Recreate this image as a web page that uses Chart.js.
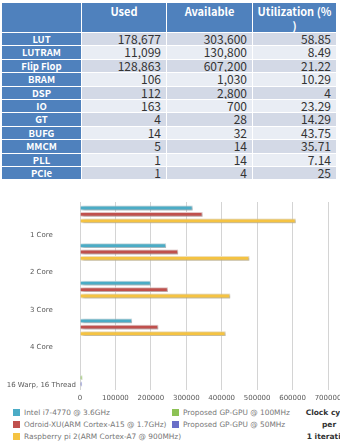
<!DOCTYPE html>
<html>
<head>
<meta charset="utf-8">
<script src="https://cdn.jsdelivr.net/npm/chart.js@4.4.0/dist/chart.umd.min.js"></script>
<style>
html,body{margin:0;padding:0;background:#fff;width:340px;height:442px;overflow:hidden;position:relative}
#tbl{position:absolute;left:1px;top:2px;border-collapse:separate;border-spacing:1px;table-layout:fixed;width:336px;font-family:"Noto Sans CJK KR","Noto Sans",sans-serif}
#tbl th{background:#4f81bd;color:#fff;font-weight:bold;font-size:11px;height:28px;line-height:14px;vertical-align:top;padding:1px 0 0 0;text-align:center}
#tbl td{height:12.4px;line-height:12.4px;padding:0;overflow:hidden;white-space:nowrap}
#tbl td.lab{background:#4f81bd;color:#fff;font-weight:bold;font-size:9.5px;text-align:center}
#tbl td.num{font-size:12px;color:#333;text-align:right;padding-right:5px}
#tbl tr.odd td.num{background:#d3d9e6}
#tbl tr.even td.num{background:#e9edf4}
#wrap{position:absolute;left:0;top:190px;width:360px;height:212px}
#legend{position:absolute;left:0;top:407px;width:300px;font-family:"DejaVu Sans",sans-serif;font-size:7.4px;color:#777}
.item{position:absolute;height:12px;line-height:12px;white-space:nowrap}
.box{position:absolute;left:0;top:2px;width:7px;height:7px}
.item span{position:absolute;left:11px;top:0}
#atitle{position:absolute;left:296px;top:407px;width:66px;text-align:center;font-family:"DejaVu Sans",sans-serif;font-size:7.5px;font-weight:bold;color:#333;line-height:12px}
</style>
</head>
<body>
<table id="tbl">
<colgroup><col style="width:79px"><col style="width:84px"><col style="width:85px"><col style="width:83px"></colgroup>
<thead><tr id="head"></tr></thead>
<tbody id="rows"></tbody>
</table>

<div id="wrap"><canvas id="myChart"></canvas></div>
<div id="legend"></div>
<div id="atitle">Clock cycle<br>per<br>1 iteration</div>

<script>
// table data
var headers = ['', 'Used', 'Available', 'Utilization (%<br>)'];
var resources = ['LUT','LUTRAM','Flip Flop','BRAM','DSP','IO','GT','BUFG','MMCM','PLL','PCIe'];
var used = ['178,677','11,099','128,863','106','112','163','4','14','5','1','1'];
var available = ['303,600','130,800','607,200','1,030','2,800','700','28','32','14','14','4'];
var utilization = ['58.85','8.49','21.22','10.29','4','23.29','14.29','43.75','35.71','7.14','25'];

// chart data
var categories = ['1 Core','2 Core','3 Core','4 Core','16 Warp, 16 Thread'];
var intel = [318000, 243000, 200000, 147000, null];
var odroid = [346000, 277000, 248000, 221000, null];
var raspberry = [609000, 478000, 424000, 411000, null];
var gpu100 = [null, null, null, null, 7000];
var gpu50 = [null, null, null, null, 6000];
var xTicks = [0,100000,200000,300000,400000,500000,600000,700000];

var seriesNames = ['Intel i7-4770 @ 3.6GHz','Odroid-XU(ARM Cortex-A15 @ 1.7GHz)','Raspberry pi 2(ARM Cortex-A7 @ 900MHz)','Proposed GP-GPU @ 100MHz','Proposed GP-GPU @ 50MHz'];
var colors = ['#4bacc6','#c0504d','#f5c342','#8dc255','#6a6fc8'];
var edges = ['#cfe8f0','#f0d0d0','#fbecc0','#d8ecc8','#d4d6f0'];

var h = '';
for (var i = 0; i < headers.length; i++) h += '<th>' + headers[i] + '</th>';
document.getElementById('head').innerHTML = h;
var r = '';
for (var i = 0; i < resources.length; i++) {
  r += '<tr class="' + (i % 2 == 0 ? 'odd' : 'even') + '"><td class="lab">' + resources[i] + '</td><td class="num">' + used[i] +
       '</td><td class="num">' + available[i] + '</td><td class="num">' + utilization[i] + '</td></tr>';
}
document.getElementById('rows').innerHTML = r;

// legend, two columns
var legPos = [[13,0],[13,12],[13,24],[172,0],[172,12]];
var lg = '';
for (var i = 0; i < seriesNames.length; i++) {
  lg += '<div class="item" style="left:' + legPos[i][0] + 'px;top:' + legPos[i][1] + 'px"><div class="box" style="background:' + colors[i] +
        '"></div><span>' + seriesNames[i] + '</span></div>';
}
document.getElementById('legend').innerHTML = lg;

var seriesData = [intel, odroid, raspberry, gpu100, gpu50];
var datasets = [];
for (var i = 0; i < seriesData.length; i++) {
  datasets.push({
    label: seriesNames[i],
    data: seriesData[i],
    backgroundColor: colors[i],
    borderColor: edges[i],
    borderWidth: 1,
    barPercentage: 0.75,
    categoryPercentage: 0.85
  });
}

var shadow = {
  id: 'shadow',
  beforeDatasetsDraw: function(chart) {
    var c = chart.ctx;
    c.save();
    c.shadowColor = 'rgba(0,0,0,0.35)';
    c.shadowBlur = 3;
    c.shadowOffsetX = 2;
    c.shadowOffsetY = 1;
  },
  afterDatasetsDraw: function(chart) {
    chart.ctx.restore();
  }
};

const config = {
  type: 'bar',
  data: { labels: categories, datasets: datasets },
  options: {
    indexAxis: 'y',
    responsive: true,
    maintainAspectRatio: false,
    animation: false,
    layout: { padding: { top: 12, right: 32, left: 0, bottom: 0 } },
    plugins: { legend: { display: false }, tooltip: { enabled: false } },
    scales: {
      x: {
        min: 0, max: 700000,
        afterBuildTicks: function(s) { s.ticks = xTicks.map(function(v) { return { value: v }; }); },
        afterFit: function(s) { s.height = 12; },
        grid: { color: '#d4d4d4', drawTicks: false },
        border: { display: false },
        ticks: { padding: 4, color: '#595959', font: { family: 'DejaVu Sans', size: 7 }, maxRotation: 0, callback: function(v) { return v; } }
      },
      y: {
        afterFit: function(s) { s.width = 80; },
        grid: { display: false, drawTicks: false },
        border: { display: false },
        ticks: { padding: 4, crossAlign: 'center', labelOffset: 14, color: '#595959', font: { family: 'DejaVu Sans', size: 7 } }
      }
    }
  },
  plugins: [shadow]
};

var myChart = new Chart(document.getElementById('myChart'), config);
</script>
</body>
</html>
